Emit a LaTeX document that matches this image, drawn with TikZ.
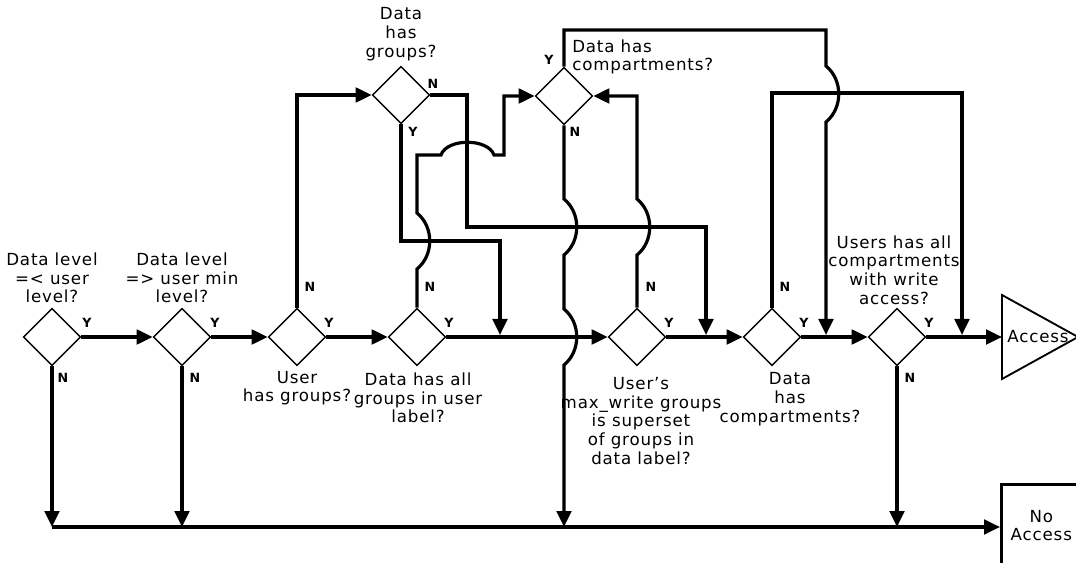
\documentclass[tikz,border=0pt]{standalone}
\usepackage{fontspec}
\setmainfont[LetterSpace=5]{DejaVu Sans}
\usepackage{tikz}
\usetikzlibrary{shapes.geometric,arrows.meta}

\tikzset{
  dec/.style={diamond, draw, line width=1.1pt, minimum width=43pt, minimum height=43pt, inner sep=0pt},
  wire/.style={line width=2.4pt},
  flow/.style={wire, -{Triangle[length=12pt,width=11pt]}},
  qtext/.style={align=center, inner sep=0pt, font=\fontsize{12.5}{14}\selectfont},
  yn/.style={inner sep=0pt, font=\fontsize{9.5}{10}\selectfont\bfseries},
}

\begin{document}
\begin{tikzpicture}[x=0.75pt,y=0.75pt,yscale=-1,xscale=1]
    \useasboundingbox (0,0) rectangle (1076,563);

    %Diamonds
    \node (d1) [dec] at (52,337) {};
    \node (d2) [dec] at (182,337) {};
    \node (d3) [dec] at (297,337) {};
    \node (d4) [dec] at (417,337) {};
    \node (d5) [dec] at (637,337) {};
    \node (d6) [dec] at (772,337) {};
    \node (d7) [dec] at (897,337) {};
    \node (dg) [dec] at (401,95) {};
    \node (dc) [dec] at (564,96) {};

    %Shape: Triangle (Access)
    \draw [line width=1.4pt] (1002,295) -- (1078,337) -- (1002,379) -- cycle ;
    \coordinate (accin) at (1002,337);
    \draw (1038,337) node (acc) [qtext] {Access};
    %Shape: Rectangle (No Access)
    \node (noacc) [draw, line width=2pt, qtext, minimum width=60pt, minimum height=62pt, anchor=north west] at (1000,483) {No\\Access};
    \coordinate (bus) at (52,527);

    %Straight Lines: main row
    \draw [flow] (d1.east) -- (d2.west);
    \draw [flow] (d2.east) -- (d3.west);
    \draw [flow] (d3.east) -- (d4.west);
    \draw [flow] (d4.east) -- (d5.west);
    \draw [flow] (d5.east) -- (d6.west);
    \draw [flow] (d6.east) -- (d7.west);
    \draw [flow] (d7.east) -- (accin);

    %Straight Lines: to No Access
    \draw [flow] (bus) -- (bus -| noacc.west);
    \draw [flow] (d1.south) -- (d1.south |- bus);
    \draw [flow] (d2.south) -- (d2.south |- bus);
    \draw [flow] (d7.south) -- (d7.south |- bus);

    %Lines: loops over the top
    \draw [flow] (d3.north) |- (dg.west);
    \draw [flow] (dg.east) -| (467,227) -| (706,335);
    \draw [flow] (dg.south) |- (500,241) -- (500,335);
    \draw [flow] (d4.north) -- (417,269) .. controls (434,255) and (434,227) .. (417,213) -- (417,155) -- (441,155) .. controls (447,138) and (488,138) .. (494,155) -- (504,155) |- (dc.west);
    \draw [flow] (dc.north) -- (564,30) -- (826,30) -- (826,66) .. controls (843,80) and (843,108) .. (826,122) -- (826,335);
    \draw [flow] (dc.south) -- (564,199) .. controls (581,213) and (581,241) .. (564,255) -- (564,309) .. controls (581,323) and (581,351) .. (564,365) -- (dc.south |- bus);
    \draw [flow] (d5.north) -- (637,255) .. controls (654,241) and (654,213) .. (637,199) |- (dc.east);
    \draw [flow] (d6.north) |- (962,93) -- (962,335);

    % Text Node
    \draw (52,278) node (t1) [qtext] {Data level\\=< user\\level?};
    % Text Node
    \draw (182,278) node (t2) [qtext] {Data level\\=> user min\\level?};
    % Text Node
    \draw (297,388) node (t3) [qtext] {User\\has groups?};
    % Text Node
    \draw (418,398) node (t4) [qtext] {Data has all\\groups in user\\label?};
    % Text Node
    \draw (641,421) node (t5) [qtext] {User's\\max\_write groups\\is superset\\of groups in\\data label?};
    % Text Node
    \draw (790,399) node (t6) [qtext] {Data\\has\\compartments?};
    % Text Node
    \draw (894,270) node (t7) [qtext] {Users has all\\compartments\\with write\\access?};
    % Text Node
    \draw (401,34) node (tg) [qtext] {Data\\has\\groups?};
    % Text Node
    \draw (572,57) node (tc) [qtext, align=left, anchor=west] {Data has\\compartments?};

    % Y / N labels
    \draw (87,323) node (y1) [yn] {Y};
    \draw (63,378) node (n1) [yn] {N};
    \draw (215,323) node (y2) [yn] {Y};
    \draw (195,378) node (n2) [yn] {N};
    \draw (329,323) node (y3) [yn] {Y};
    \draw (310,287) node (n3) [yn] {N};
    \draw (449,323) node (y4) [yn] {Y};
    \draw (430,287) node (n4) [yn] {N};
    \draw (669,323) node (y5) [yn] {Y};
    \draw (651,287) node (n5) [yn] {N};
    \draw (804,323) node (y6) [yn] {Y};
    \draw (785,287) node (n6) [yn] {N};
    \draw (929,323) node (y7) [yn] {Y};
    \draw (910,378) node (n7) [yn] {N};
    \draw (433,84) node (ng) [yn] {N};
    \draw (413,132) node (yg) [yn] {Y};
    \draw (549,60) node (yc) [yn] {Y};
    \draw (575,132) node (nc) [yn] {N};

\end{tikzpicture}
\end{document}
